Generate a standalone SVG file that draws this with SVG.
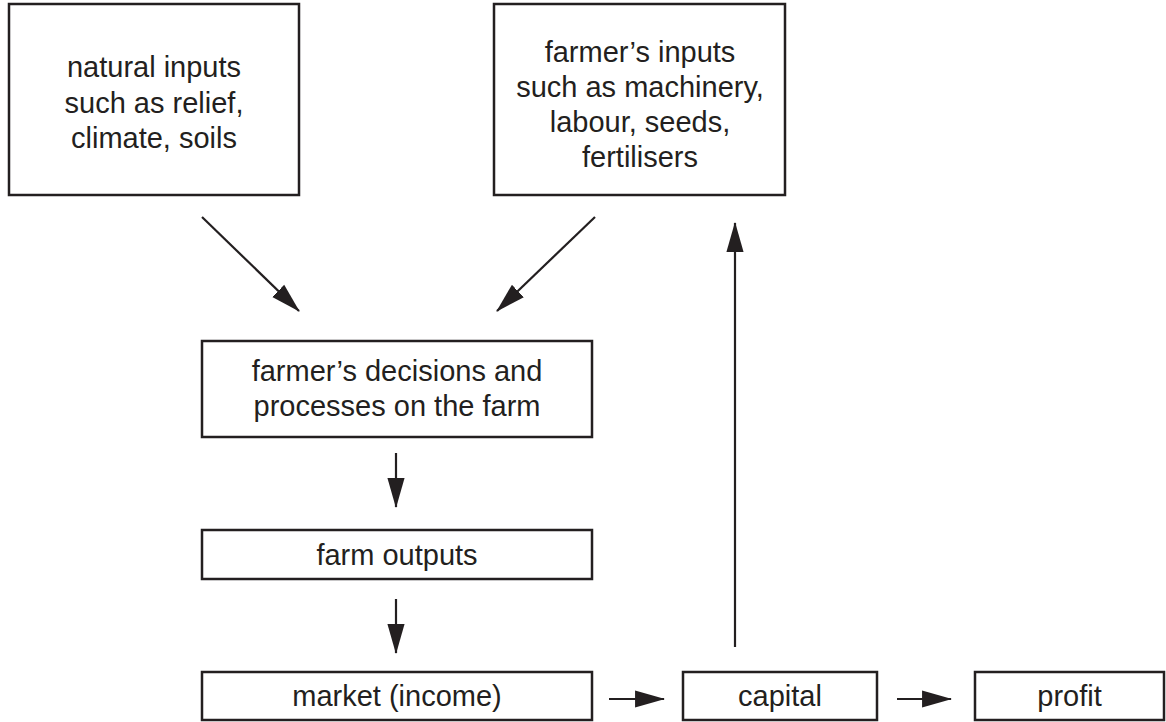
<svg xmlns="http://www.w3.org/2000/svg" width="1166" height="722" viewBox="0 0 1166 722">
<style>
.box{fill:#fff;stroke:#231f20;stroke-width:2.5}
.t{font-family:"Liberation Sans",Arial,sans-serif;font-size:29px;fill:#231f20;text-anchor:middle}
.c{stroke:#231f20;stroke-width:2.2;fill:none;marker-end:url(#ah)}
</style>
<defs>
<marker id="ah" markerUnits="userSpaceOnUse" markerWidth="30" markerHeight="18" viewBox="0 0 28 16" refX="27" refY="8" orient="auto">
<path d="M0,0 L28,8 L0,16 z" fill="#231f20"/>
</marker>
</defs>
<rect width="1166" height="722" fill="#fff"/>
<g id="natural-inputs">
<rect class="box" x="9" y="4" width="290" height="191"/>
<text class="t" x="154" y="77">natural inputs</text>
<text class="t" x="154" y="112.5">such as relief,</text>
<text class="t" x="154" y="148">climate, soils</text>
</g>
<g id="farmers-inputs">
<rect class="box" x="494" y="4" width="291" height="191"/>
<text class="t" x="640" y="62">farmer’s inputs</text>
<text class="t" x="640" y="97">such as machinery,</text>
<text class="t" x="640" y="132">labour, seeds,</text>
<text class="t" x="640" y="167">fertilisers</text>
</g>
<g id="decisions">
<rect class="box" x="202" y="341" width="390" height="96"/>
<text class="t" x="397" y="381">farmer’s decisions and</text>
<text class="t" x="397" y="416">processes on the farm</text>
</g>
<g id="farm-outputs">
<rect class="box" x="202" y="530" width="390" height="49"/>
<text class="t" x="397" y="565">farm outputs</text>
</g>
<g id="market">
<rect class="box" x="202" y="672" width="390" height="48"/>
<text class="t" x="397" y="706">market (income)</text>
</g>
<g id="capital">
<rect class="box" x="683" y="672" width="194" height="48"/>
<text class="t" x="780" y="706">capital</text>
</g>
<g id="profit">
<rect class="box" x="975" y="672" width="189" height="48"/>
<text class="t" x="1069.5" y="706">profit</text>
</g>
<g id="connectors">
<line class="c" x1="202" y1="217" x2="299" y2="311"/>
<line class="c" x1="595" y1="217" x2="497" y2="311"/>
<line class="c" x1="396" y1="453" x2="396" y2="507"/>
<line class="c" x1="396" y1="599" x2="396" y2="653"/>
<line class="c" x1="609" y1="699" x2="664" y2="699"/>
<line class="c" x1="897" y1="699" x2="951" y2="699"/>
<line class="c" x1="735" y1="647" x2="735" y2="223"/>
</g>
</svg>
